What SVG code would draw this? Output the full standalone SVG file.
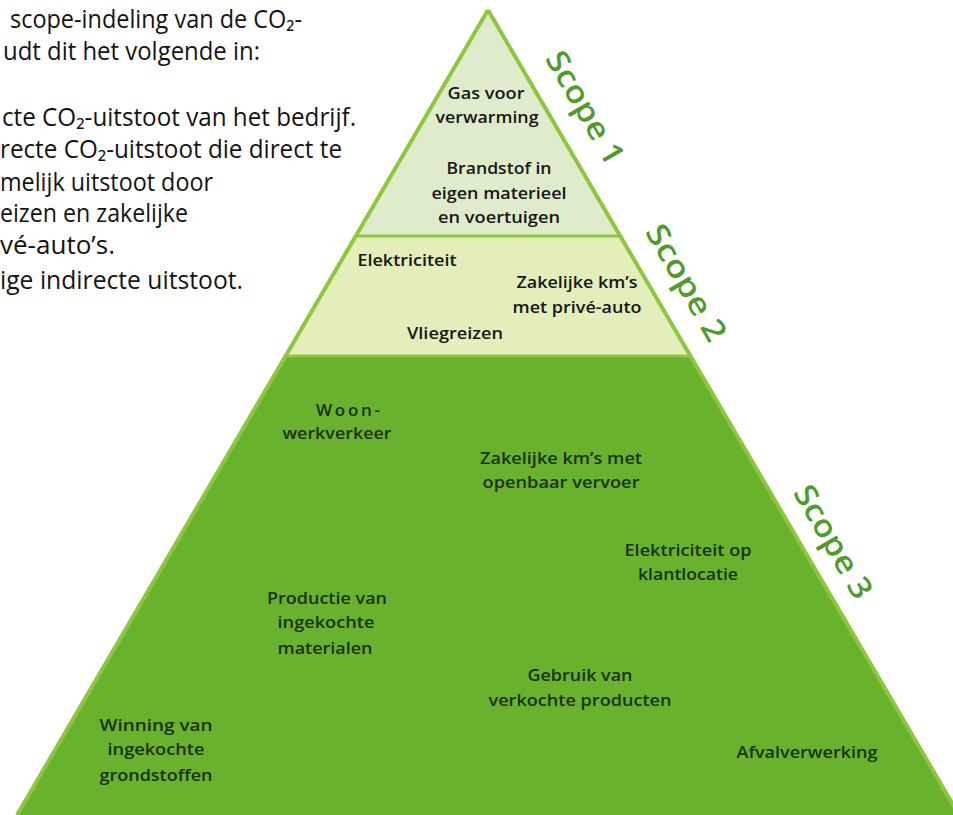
<svg xmlns="http://www.w3.org/2000/svg" width="953" height="815" viewBox="0 0 953 815">
<style>
.body{font-family:"Open Sans","Liberation Sans",sans-serif;font-size:25px;fill:#141414}
.lbl{font-family:"Open Sans","Liberation Sans",sans-serif;font-weight:600;font-size:17px;fill:#161616;text-anchor:middle}
.lbl3{font-family:"Open Sans","Liberation Sans",sans-serif;font-weight:600;font-size:17px;fill:#1c3013;text-anchor:middle}
.scope{font-family:"Open Sans","Liberation Sans",sans-serif;font-weight:600;font-size:31px;fill:#4f9c2d;text-anchor:middle}
.edge{fill:none;stroke:#8dc63f;stroke-width:4;stroke-linejoin:miter}
.sep{stroke:#8dc63f;stroke-width:3}
</style>
<rect width="953" height="815" fill="#ffffff"/>
<g id="body-text">
<text class="body" x="10" y="28" textLength="292" lengthAdjust="spacingAndGlyphs">scope-indeling van de CO₂-</text>
<text class="body" x="3" y="60" textLength="257" lengthAdjust="spacingAndGlyphs">udt dit het volgende in:</text>
<text class="body" x="2" y="126" textLength="354" lengthAdjust="spacingAndGlyphs">cte CO₂-uitstoot van het bedrijf.</text>
<text class="body" x="0" y="158" textLength="342" lengthAdjust="spacingAndGlyphs">recte CO₂-uitstoot die direct te</text>
<text class="body" x="0" y="191" textLength="213" lengthAdjust="spacingAndGlyphs">melijk uitstoot door</text>
<text class="body" x="0" y="222" textLength="188" lengthAdjust="spacingAndGlyphs">eizen en zakelijke</text>
<text class="body" x="0" y="254" textLength="115" lengthAdjust="spacingAndGlyphs">vé-auto’s.</text>
<text class="body" x="0" y="289" textLength="243" lengthAdjust="spacingAndGlyphs">ige indirecte uitstoot.</text>
</g>
<g id="scope1">
<polygon points="488,10 356,236 620,236" fill="#dfeccb"/>
<text class="lbl" x="486" y="99" textLength="77" lengthAdjust="spacingAndGlyphs">Gas voor</text>
<text class="lbl" x="487" y="123" textLength="103" lengthAdjust="spacingAndGlyphs">verwarming</text>
<text class="lbl" x="499" y="174" textLength="105" lengthAdjust="spacingAndGlyphs">Brandstof in</text>
<text class="lbl" x="499" y="199" textLength="135" lengthAdjust="spacingAndGlyphs">eigen materieel</text>
<text class="lbl" x="499" y="223" textLength="122" lengthAdjust="spacingAndGlyphs">en voertuigen</text>
<text class="scope" transform="translate(576,113) rotate(60)" textLength="126" lengthAdjust="spacingAndGlyphs">Scope 1</text>
</g>
<g id="scope2">
<polygon points="356,236 620,236 690,356 286,356" fill="#e3eeba"/>
<text class="lbl" x="407" y="266" textLength="99" lengthAdjust="spacingAndGlyphs">Elektriciteit</text>
<text class="lbl" x="577" y="288" textLength="121" lengthAdjust="spacingAndGlyphs">Zakelijke km’s</text>
<text class="lbl" x="577" y="313" textLength="129" lengthAdjust="spacingAndGlyphs">met privé-auto</text>
<text class="lbl" x="455" y="339" textLength="96" lengthAdjust="spacingAndGlyphs">Vliegreizen</text>
<text class="scope" transform="translate(677,288) rotate(60)" textLength="130" lengthAdjust="spacingAndGlyphs">Scope 2</text>
</g>
<g id="scope3">
<polygon points="286,356 690,356 959,815 17,815" fill="#69b22e"/>
<text class="lbl3" x="348" y="416" textLength="64" lengthAdjust="spacing">Woon-</text>
<text class="lbl3" x="337" y="439" textLength="109" lengthAdjust="spacingAndGlyphs">werkverkeer</text>
<text class="lbl3" x="561" y="464" textLength="162" lengthAdjust="spacingAndGlyphs">Zakelijke km’s met</text>
<text class="lbl3" x="561" y="488" textLength="157" lengthAdjust="spacingAndGlyphs">openbaar vervoer</text>
<text class="lbl3" x="688" y="556" textLength="127" lengthAdjust="spacingAndGlyphs">Elektriciteit op</text>
<text class="lbl3" x="688" y="580" textLength="100" lengthAdjust="spacingAndGlyphs">klantlocatie</text>
<text class="lbl3" x="327" y="604" textLength="120" lengthAdjust="spacingAndGlyphs">Productie van</text>
<text class="lbl3" x="326" y="628" textLength="97" lengthAdjust="spacingAndGlyphs">ingekochte</text>
<text class="lbl3" x="325" y="654" textLength="95" lengthAdjust="spacingAndGlyphs">materialen</text>
<text class="lbl3" x="580" y="681" textLength="105" lengthAdjust="spacingAndGlyphs">Gebruik van</text>
<text class="lbl3" x="580" y="706" textLength="183" lengthAdjust="spacingAndGlyphs">verkochte producten</text>
<text class="lbl3" x="807" y="758" textLength="141" lengthAdjust="spacingAndGlyphs">Afvalverwerking</text>
<text class="lbl3" x="156" y="731" textLength="113" lengthAdjust="spacingAndGlyphs">Winning van</text>
<text class="lbl3" x="156" y="755" textLength="97" lengthAdjust="spacingAndGlyphs">ingekochte</text>
<text class="lbl3" x="156" y="781" textLength="113" lengthAdjust="spacingAndGlyphs">grondstoffen</text>
<text class="scope" transform="translate(824,547) rotate(60)" textLength="126" lengthAdjust="spacingAndGlyphs">Scope 3</text>
</g>
<g id="outline">
<path class="edge" d="M488,10 L17,815 M488,10 L959,815"/>
<line class="sep" x1="356" y1="236" x2="620" y2="236"/>
<line class="sep" x1="286" y1="356" x2="690" y2="356"/>
</g>
</svg>
